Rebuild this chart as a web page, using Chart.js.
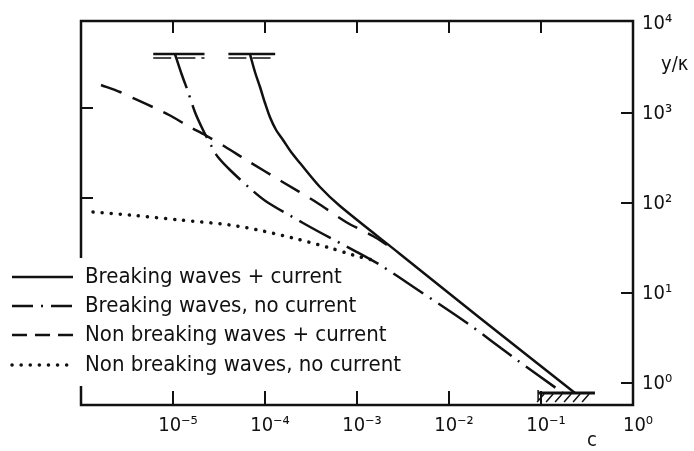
<!DOCTYPE html>
<html>
<head>
<meta charset="utf-8">
<script src="https://cdn.jsdelivr.net/npm/chart.js@4.4.1/dist/chart.umd.min.js"></script>
<style>
  body { margin: 0; background: #fff; }
  #chart-container { width: 694px; height: 451px; position: relative; }
</style>
</head>
<body>
<div id="chart-container"><canvas id="wave-chart"></canvas></div>
<script>
// values (c on x, y/k on y, both log)
const breakCurC = [6.9e-5, 7.78e-5, 8.83e-5, 1.0e-4, 1.13e-4, 1.32e-4, 1.57e-4, 1.92e-4, 2.4e-4, 3.96e-4, 6.53e-4, 2.93e-3, 2.17e-2, 0.234];
const breakCurY = [4200, 2712, 1848, 1227, 858, 615, 476, 350, 264, 143, 88, 25.8, 5.0, 0.736];

const breakNoCurC = [1.05e-5, 1.25e-5, 1.46e-5, 1.73e-5, 2.12e-5, 2.65e-5, 3.08e-5, 4.17e-5, 7.22e-5, 1.05e-4, 2.59e-4, 4.27e-4, 1.0e-3, 1.78e-3, 4.27e-3, 1.57e-2, 5.48e-2, 0.173];
const breakNoCurY = [4300, 2512, 1626, 975, 615, 398, 308, 221, 132, 97.5, 57, 43, 27.1, 19.5, 10.8, 4.41, 1.71, 0.736];

const nonBreakCurC = [1.65e-6, 2.65e-6, 3.86e-6, 6.7e-6, 9.06e-6, 1.53e-5, 2.23e-5, 3.58e-5, 6.53e-5, 1.49e-4, 3.58e-4, 7.59e-4, 1.49e-3, 2.29e-3];
const nonBreakCurY = [1945, 1626, 1360, 1053, 903, 664, 541, 408, 278, 167, 97.5, 58.5, 40.8, 30.8];

const nonBreakNoCurC = [1.35e-6, 3.41e-6, 1.19e-5, 4.17e-5, 9.51e-5, 2.23e-4, 5.09e-4, 9.06e-4, 1.46e-3];
const nonBreakNoCurY = [75.5, 69.8, 61.5, 54.1, 46.4, 37.8, 30.1, 25.1, 22.1];

// water surface marks at the top of the breaking curves, and the bed at the bottom
const surfLeftC = [6.1e-6, 2.2e-5];
const surfRightC = [4.0e-5, 1.29e-4];
const surfTopY = 4300;
const surfLowY = 3880;
const bedC = [0.093, 0.386];
const bedY = 0.735;

const xTickVals = [1e-5, 1e-4, 1e-3, 1e-2, 1e-1, 1];
const xTickLabels = ['10⁻⁵', '10⁻⁴', '10⁻³', '10⁻²', '10⁻¹', '10⁰'];
const yTickVals = [1, 10, 100, 1000, 10000];
const yTickLabels = ['10⁰', '10¹', '10²', '10³', '10⁴'];

const seriesLabels = [
    'Breaking waves + current',
    'Breaking waves, no current',
    'Non breaking waves + current',
    'Non breaking waves, no current'
];

const FONT = '"DejaVu Sans Condensed", "DejaVu Sans", sans-serif';
const INK = '#111';

const pts = (cs, ys) => cs.map((c, i) => ({ x: c, y: Array.isArray(ys) ? ys[i] : ys }));

const curve = (label, cs, ys, dash, width) => ({
    label: label,
    data: pts(cs, ys),
    borderColor: INK,
    borderWidth: width || 2.5,
    borderDash: dash,
    borderCapStyle: dash.length && dash[0] < 1 ? 'round' : 'butt',
    pointRadius: 0,
    tension: 0.3,
    fill: false
});

const legend_styles = [
    { dash: [], width: 2.5 },
    { dash: [21, 8, 2, 8], width: 2.5 },
    { dash: [15, 8], width: 2.5 },
    { dash: [0.1, 9], width: 3.5, cap: 'round' }
];

const framePlugin = {
    id: 'frame',
    afterDraw(chart) {
        const ctx = chart.ctx;
        const a = chart.chartArea;
        const xs = chart.scales.x;
        const ys = chart.scales.y;
        ctx.save();
        ctx.strokeStyle = INK;
        ctx.lineWidth = 2.5;
        ctx.strokeRect(a.left, a.top, a.right - a.left, a.bottom - a.top);

        // inward ticks
        ctx.lineWidth = 2;
        ctx.beginPath();
        xTickVals.slice(0, -1).forEach(v => {
            const px = xs.getPixelForValue(v);
            ctx.moveTo(px, a.top); ctx.lineTo(px, a.top + 12);
            ctx.moveTo(px, a.bottom); ctx.lineTo(px, a.bottom - 14);
        });
        yTickVals.slice(0, -1).forEach(v => {
            const py = ys.getPixelForValue(v);
            ctx.moveTo(a.right, py + 2); ctx.lineTo(a.right - 12, py + 2);
            ctx.moveTo(a.left, py - 3); ctx.lineTo(a.left + 12, py - 3);
        });
        ctx.stroke();

        // hatching under the bed line
        const bx0 = xs.getPixelForValue(bedC[0]);
        const bx1 = xs.getPixelForValue(bedC[1]);
        const by = ys.getPixelForValue(bedY);
        ctx.lineWidth = 1.5;
        ctx.beginPath();
        ctx.moveTo(bx0, by - 3); ctx.lineTo(bx0, by + 8);
        for (let hx = bx0 + 6; hx <= bx1; hx += 9) {
            ctx.moveTo(hx, by + 1); ctx.lineTo(hx - 7, by + 9);
        }
        ctx.stroke();

        // legend, laid over the left axis
        ctx.fillStyle = '#fff';
        ctx.fillRect(0, 258, a.left + 14, 128);
        ctx.font = '22px ' + FONT;
        ctx.textBaseline = 'middle';
        ctx.fillStyle = INK;
        const rowY = [277, 306, 335, 365];
        seriesLabels.forEach((lbl, i) => {
            const st = legend_styles[i];
            ctx.lineWidth = st.width;
            ctx.lineCap = st.cap || 'butt';
            ctx.setLineDash(st.dash);
            ctx.beginPath();
            ctx.moveTo(12, rowY[i]);
            ctx.lineTo(73, rowY[i]);
            ctx.stroke();
            ctx.setLineDash([]);
            ctx.lineCap = 'butt';
            ctx.fillText(lbl, 85, rowY[i]);
        });

        // axis names
        ctx.font = '20px ' + FONT;
        ctx.fillText('y/κ', 661, 65);
        ctx.fillText('c', 587, 441);
        ctx.restore();
    }
};

const canvas = document.getElementById('wave-chart');

new Chart(canvas, {
    type: 'line',
    data: {
        datasets: [
            curve(seriesLabels[0], breakCurC, breakCurY, []),
            curve(seriesLabels[1], breakNoCurC, breakNoCurY, [36, 8, 2, 8]),
            curve(seriesLabels[2], nonBreakCurC, nonBreakCurY, [22, 12]),
            curve(seriesLabels[3], nonBreakNoCurC, nonBreakNoCurY, [0.1, 9], 3.5),
            curve('surface', surfLeftC, surfTopY, [], 2.5),
            curve('surface', surfLeftC, surfLowY, [18, 6], 1.5),
            curve('surface', surfRightC, surfTopY, [], 2.5),
            curve('surface', surfRightC, surfLowY, [18, 6], 1.5),
            curve('bed', bedC, bedY, [], 3)
        ]
    },
    options: {
        responsive: true,
        maintainAspectRatio: false,
        animation: false,
        devicePixelRatio: 1,
        layout: { padding: { left: 81, top: 21, right: 0, bottom: 0 } },
        plugins: {
            legend: { display: false },
            tooltip: { enabled: false }
        },
        scales: {
            x: {
                type: 'logarithmic',
                min: 1e-6,
                max: 1,
                afterBuildTicks: (scale) => { scale.ticks = xTickVals.map(v => ({ value: v })); },
                afterFit: (scale) => { scale.height = 46; },
                grid: { display: false, drawTicks: false },
                border: { display: false },
                ticks: {
                    autoSkip: false,
                    maxRotation: 0,
                    padding: 9,
                    labelOffset: 5,
                    color: INK,
                    font: { family: FONT, size: 20 },
                    callback: (value, index) => xTickLabels[index]
                }
            },
            y: {
                type: 'logarithmic',
                position: 'right',
                min: 0.541,
                max: 10000,
                afterBuildTicks: (scale) => { scale.ticks = yTickVals.map(v => ({ value: v })); },
                afterFit: (scale) => { scale.width = 61; },
                grid: { display: false, drawTicks: false },
                border: { display: false },
                ticks: {
                    autoSkip: false,
                    padding: 9,
                    labelOffset: 3,
                    color: INK,
                    font: { family: FONT, size: 20 },
                    callback: (value, index) => yTickLabels[index]
                }
            }
        }
    },
    plugins: [framePlugin]
});
</script>
</body>
</html>
